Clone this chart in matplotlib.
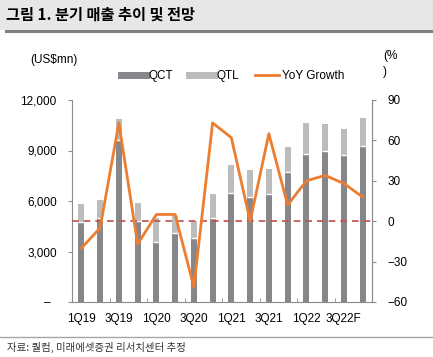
import matplotlib.pyplot as plt
import numpy as np
from matplotlib.lines import Line2D
from matplotlib.patches import Rectangle

plt.rcParams['font.family'] = ['Liberation Sans', 'Noto Sans CJK KR']

quarters = ['1Q19', '2Q19', '3Q19', '4Q19', '1Q20', '2Q20', '3Q20', '4Q20',
            '1Q21', '2Q21', '3Q21', '4Q21', '1Q22', '2Q22', '3Q22F', '4Q22F']
qct = [4770, 4970, 9620, 4810, 3560, 4080, 3790, 4970,
       6490, 6220, 6430, 7700, 8770, 8990, 8730, 9250]
qtl = [1050, 1090, 1250, 1090, 1410, 1030, 1020, 1445,
       1650, 1620, 1470, 1525, 1845, 1585, 1545, 1700]
yoy = [-20, -5, 73, -17, 5, 5, -49, 73,
       62, 0, 65, 12, 30, 34, 28, 18]

c_qct = '#85878a'
c_qtl = '#bcbcbc'
c_yoy = '#ed7d31'
c_axis = '#8c8c8c'

fig = plt.figure(figsize=(4.33, 3.57), dpi=100)

# title band
fig.patches.append(Rectangle((0, 1 - 30/357), 1, 30/357, transform=fig.transFigure,
                             facecolor='#e7e7e7', edgecolor='none', zorder=0))
fig.add_artist(Line2D([6/433, 1], [1 - 31/357, 1 - 31/357], transform=fig.transFigure,
                      color='#7f7f7f', lw=2.2))
fig.text(6/433, 1 - 15/357, '그림 1. 분기 매출 추이 및 전망', family='Noto Sans CJK KR',
         fontsize=11, fontweight='bold', va='center', ha='left')

# bottom source
fig.add_artist(Line2D([0, 1], [1 - 337/357, 1 - 337/357], transform=fig.transFigure,
                      color='#a6a6a6', lw=1))
fig.text(7/433, 1 - 347/357, '자료: 퀄컴, 미래에셋증권 리서치센터 추정', family='Noto Sans CJK KR',
         fontsize=7.5, va='center', ha='left', color='#333333')

ax = fig.add_axes([72/433, 1 - 302/357, 300/433, 202/357])
x = np.arange(len(quarters))
w = 0.33
ax.bar(x, qct, w, color=c_qct, zorder=2)
ax.bar(x, qtl, w, bottom=qct, color=c_qtl, zorder=2)
ax.hlines(qct, x - w/2, x + w/2, color='white', lw=1, zorder=3)

ax.set_xlim(-0.5, len(quarters) - 0.5)
ax.set_ylim(0, 12000)
ax.set_yticks([0, 3000, 6000, 9000, 12000])
ax.set_yticklabels(['–  ', '3,000', '6,000', '9,000', '12,000'])
ax.set_xticks(x[::2])
ax.set_xticklabels(quarters[::2])
ax.set_xticks(np.arange(1.5, len(quarters), 2), minor=True)
ax.tick_params(axis='x', which='major', length=0, pad=8, labelsize=8.5)
ax.tick_params(axis='x', which='minor', length=3, direction='in', color=c_axis)
ax.tick_params(axis='y', length=3, color=c_axis, pad=8, labelsize=8.5)
ax.spines['top'].set_visible(False)
for s in ['left', 'right', 'bottom']:
    ax.spines[s].set_color(c_axis)

ax2 = ax.twinx()
ax2.set_ylim(-60, 90)
ax2.set_yticks([-60, -30, 0, 30, 60, 90])
ax2.set_yticklabels(['−60', '−30', '0', '30', '60', '90'])
ax2.axhline(0, color='#c0504d', lw=1.2, ls=(0, (4, 3)), zorder=1)
ax2.plot(x, yoy, color=c_yoy, lw=2, zorder=3)
ax2.tick_params(axis='y', length=3, color=c_axis, pad=8, labelsize=8.5)
for s in ['top', 'left', 'bottom']:
    ax2.spines[s].set_visible(False)
ax2.spines['right'].set_color(c_axis)

fig.text(54/433, 1 - 60/357, '(US$mn)', fontsize=8.5, ha='center', va='center')
fig.text(383/433, 1 - 64/357, '(%\n)', fontsize=8.5, ha='left', va='center', linespacing=1.5)

handles = [Line2D([], [], color=c_qct, lw=5),
           Line2D([], [], color=c_qtl, lw=5),
           Line2D([], [], color=c_yoy, lw=2)]
fig.legend(handles, ['QCT', 'QTL', 'YoY Growth'], loc='center',
           bbox_to_anchor=(233/433, 1 - 76/357), ncol=3, frameon=False,
           fontsize=8.5, handlelength=2.1, handletextpad=0.25, columnspacing=1.3)

fig.savefig('out.png', dpi=100)
